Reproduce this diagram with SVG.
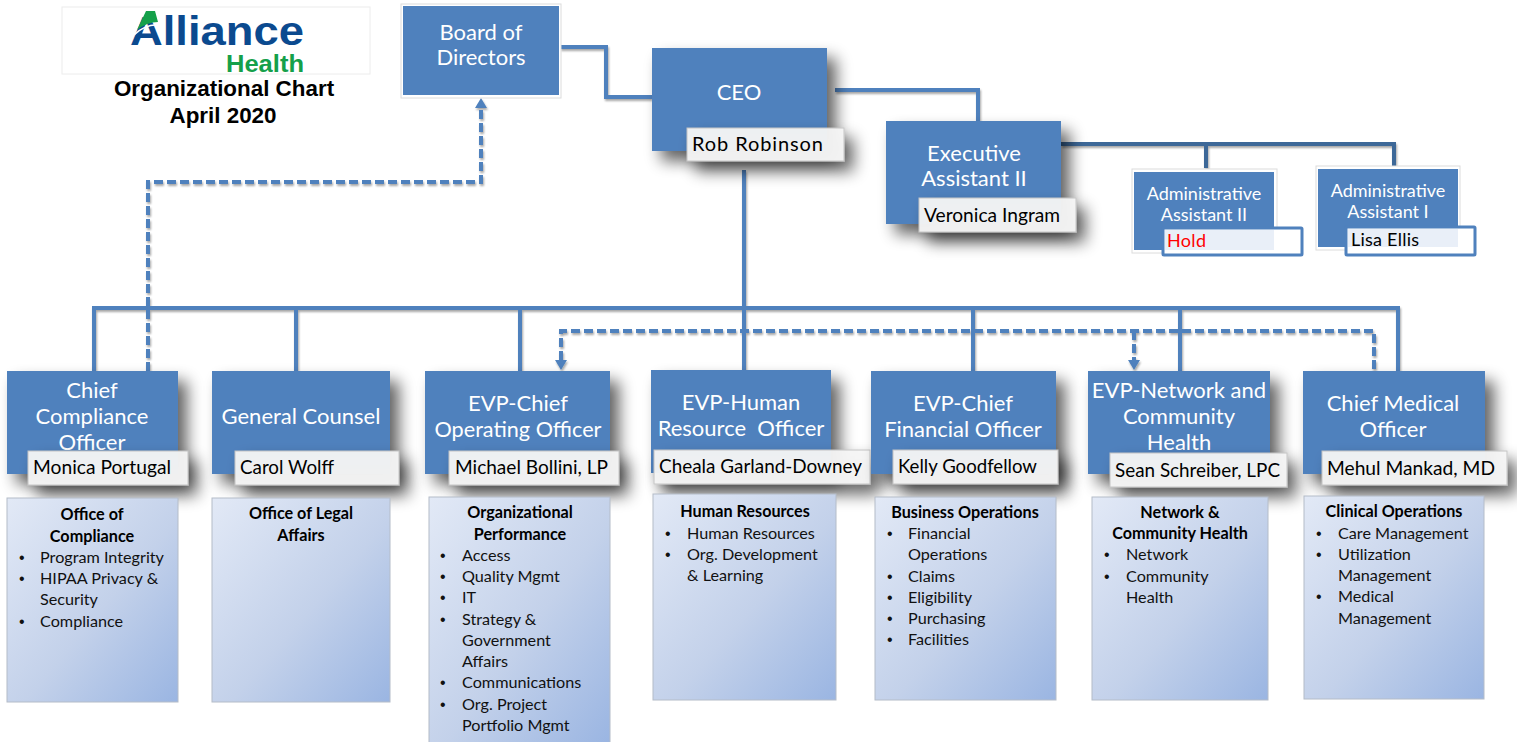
<svg xmlns="http://www.w3.org/2000/svg" width="1517" height="742" viewBox="0 0 1517 742">
<style>
text{font-family:Lato,"Open Sans","Liberation Sans",sans-serif}
.box{fill:#4f81bd}
.t{fill:#fff;font-size:22px;text-anchor:middle}
.tsm{fill:#fff;font-size:18px;text-anchor:middle}
.nm{fill:#f6f6f6;fill-opacity:.95;stroke:#c4c4c4;stroke-width:1}
.n{fill:#000;font-size:20px}
.panel{fill:url(#g);stroke:#b4bcc8;stroke-width:1}
.h{fill:#000;font-size:16.2px;font-weight:700;text-anchor:middle}
.b{fill:#111;font-size:16.2px}
.dot{fill:#111;font-size:16px;font-family:"Liberation Sans",sans-serif}
.c{fill:none;stroke:#4f81bd;stroke-width:4}
.d{fill:none;stroke:#4f81bd;stroke-width:4;stroke-dasharray:9 4}
.dk{fill:none;stroke:#3c6898;stroke-width:4}
.fr{fill:#fff;stroke:#dcdcdc;stroke-width:1}
.ls{font-family:"Liberation Sans",Arial,sans-serif;font-weight:700}
</style>
<defs>
<linearGradient id="g" x1="0" y1="0" x2="1" y2="1"><stop offset="0" stop-color="#e2e9f6"/><stop offset=".55" stop-color="#c3d1ea"/><stop offset="1" stop-color="#9ab5e2"/></linearGradient>
<filter id="s" x="-40%" y="-100%" width="200%" height="320%"><feGaussianBlur in="SourceAlpha" stdDeviation="8"/><feOffset dx="9" dy="10"/><feComponentTransfer><feFuncA type="linear" slope=".62"/></feComponentTransfer><feMerge><feMergeNode/><feMergeNode in="SourceGraphic"/></feMerge></filter>
<filter id="ls" x="-5%" y="-5%" width="110%" height="110%"><feGaussianBlur in="SourceAlpha" stdDeviation="1.2"/><feOffset dx="1" dy="1.5"/><feComponentTransfer><feFuncA type="linear" slope=".35"/></feComponentTransfer><feMerge><feMergeNode/><feMergeNode in="SourceGraphic"/></feMerge></filter>
</defs>

<g id="logo">
<rect x="62" y="7" width="308" height="67" fill="#fff" stroke="#ececec"/>
<text class="ls" x="130" y="45" font-size="41" fill="#0b4a8f" textLength="174" lengthAdjust="spacingAndGlyphs">Alliance</text>
<path d="M137 30L146 11H155L158 22Q147 22 137 30Z" fill="#15a04a"/>
<path d="M134 35Q146 23 161 25" fill="none" stroke="#fff" stroke-width="1.5"/>
<text class="ls" x="226" y="72" font-size="23" fill="#15a04a" textLength="78" lengthAdjust="spacingAndGlyphs">Health</text>
</g>
<g id="title">
<text class="ls" x="224" y="96" font-size="22.4" text-anchor="middle">Organizational Chart</text>
<text class="ls" x="223" y="123" font-size="22.4" text-anchor="middle">April 2020</text>
</g>

<g id="connectors">
<g filter="url(#ls)">
<path class="c" d="M560 47H606V97H652"/>
<path class="c" d="M835 90H978V121"/>
<path class="dk" d="M1061 144H1394V168M1206 144V168"/>
<path class="c" d="M744 170V371M94 371V308H1398V371M296 308V371M520 308V371M973 308V371M1180 308V371"/>
<path class="d" d="M148 371V182H481V108"/>
<path d="M481 98L487 108H475Z" fill="#4f81bd"/>
<path class="d" d="M1374 369V331H561V360"/>
<path d="M561 370L555 360H567Z" fill="#4f81bd"/>
<path class="d" d="M1134 331V360"/>
<path d="M1134 370L1128 360H1140Z" fill="#4f81bd"/>
</g>
</g>

<g id="node-board"><rect x="401" y="4" width="160" height="94" class="fr"/><rect x="403" y="6" width="156" height="89" class="box"/><text class="t" x="481" y="40">Board of</text><text class="t" x="481" y="65">Directors</text></g>
<g id="node-ceo"><rect x="652" y="48" width="175" height="103" class="box" filter="url(#s)"/><text class="t" x="739" y="100" font-size="21">CEO</text><rect x="687" y="128" width="157" height="33" class="nm" filter="url(#s)"/><text class="n" x="692" y="151" textLength="131">Rob Robinson</text></g>
<g id="node-exec"><rect x="886" y="121" width="175" height="103" class="box" filter="url(#s)"/><text class="t" x="974" y="161">Executive</text><text class="t" x="974" y="186">Assistant II</text><rect x="919" y="198" width="157" height="34" class="nm" filter="url(#s)"/><text class="n" x="924" y="222" textLength="136" lengthAdjust="spacingAndGlyphs">Veronica Ingram</text></g>
<g id="node-admin2"><rect x="1132" y="169" width="145" height="84" class="fr"/><rect x="1134" y="172" width="140" height="78" class="box"/><text class="tsm" x="1204" y="200">Administrative</text><text class="tsm" x="1204" y="221">Assistant II</text><rect x="1163" y="228" width="139" height="27" fill="#fff" stroke="#4f81bd" stroke-width="3" rx="1"/><rect x="1165" y="230" width="109" height="20" fill="#e9eff8"/><text x="1167" y="247" font-size="18" fill="#f00" textLength="39">Hold</text></g>
<g id="node-admin1"><rect x="1316" y="166" width="144" height="84" class="fr"/><rect x="1318" y="169" width="140" height="78" class="box"/><text class="tsm" x="1388" y="197">Administrative</text><text class="tsm" x="1388" y="218">Assistant I</text><rect x="1346" y="227" width="129" height="28" fill="#fff" stroke="#4f81bd" stroke-width="3" rx="1"/><rect x="1348" y="229" width="110" height="18" fill="#e9eff8"/><text x="1351" y="246" font-size="18" fill="#000" textLength="68">Lisa Ellis</text></g>

<g id="node-cco"><rect x="7" y="371" width="171" height="103" class="box" filter="url(#s)"/><text class="t" x="92" y="398">Chief</text><text class="t" x="92" y="424">Compliance</text><text class="t" x="92" y="450">Officer</text><rect x="28" y="451" width="160" height="34" class="nm" filter="url(#s)"/><text class="n" x="33" y="474" textLength="138" lengthAdjust="spacingAndGlyphs">Monica Portugal</text></g>
<g id="node-gc"><rect x="212" y="371" width="178" height="103" class="box" filter="url(#s)"/><text class="t" x="301" y="424">General Counsel</text><rect x="235" y="451" width="164" height="34" class="nm" filter="url(#s)"/><text class="n" x="240" y="474" textLength="94" lengthAdjust="spacingAndGlyphs">Carol Wolff</text></g>
<g id="node-coo"><rect x="425" y="371" width="185" height="103" class="box" filter="url(#s)"/><text class="t" x="518" y="411">EVP-Chief</text><text class="t" x="518" y="437" textLength="167" lengthAdjust="spacingAndGlyphs">Operating Officer</text><rect x="449" y="451" width="170" height="34" class="nm" filter="url(#s)"/><text class="n" x="455" y="474" textLength="153" lengthAdjust="spacingAndGlyphs">Michael Bollini, LP</text></g>
<g id="node-hr"><rect x="651" y="370" width="180" height="103" class="box" filter="url(#s)"/><text class="t" x="741" y="410">EVP-Human</text><text class="t" x="741" y="436" xml:space="preserve">Resource  Officer</text><rect x="654" y="450" width="216" height="34" class="nm" filter="url(#s)"/><text class="n" x="659" y="473" textLength="203" lengthAdjust="spacingAndGlyphs">Cheala Garland-Downey</text></g>
<g id="node-cfo"><rect x="871" y="371" width="185" height="103" class="box" filter="url(#s)"/><text class="t" x="963" y="411">EVP-Chief</text><text class="t" x="963" y="437">Financial Officer</text><rect x="893" y="450" width="165" height="34" class="nm" filter="url(#s)"/><text class="n" x="898" y="473" textLength="139" lengthAdjust="spacingAndGlyphs">Kelly Goodfellow</text></g>
<g id="node-net"><rect x="1088" y="371" width="182" height="103" class="box" filter="url(#s)"/><text class="t" x="1179" y="398">EVP-Network and</text><text class="t" x="1179" y="424">Community</text><text class="t" x="1179" y="450">Health</text><rect x="1110" y="453" width="177" height="34" class="nm" filter="url(#s)"/><text class="n" x="1115" y="477" textLength="165" lengthAdjust="spacingAndGlyphs">Sean Schreiber, LPC</text></g>
<g id="node-cmo"><rect x="1303" y="371" width="182" height="103" class="box" filter="url(#s)"/><text class="t" x="1393" y="411">Chief Medical</text><text class="t" x="1393" y="437">Officer</text><rect x="1322" y="451" width="185" height="34" class="nm" filter="url(#s)"/><text class="n" x="1327" y="475" textLength="168" lengthAdjust="spacingAndGlyphs">Mehul Mankad, MD</text></g>

<g id="panel-compliance"><rect x="7" y="498" width="171" height="204" class="panel"/>
<text class="h" x="92" y="520">Office of</text><text class="h" x="92" y="542">Compliance</text>
<text class="dot" x="19" y="563">•</text><text class="b" x="40" y="563">Program Integrity</text>
<text class="dot" x="19" y="584">•</text><text class="b" x="40" y="584">HIPAA Privacy &amp;</text><text class="b" x="40" y="605">Security</text>
<text class="dot" x="19" y="627">•</text><text class="b" x="40" y="627">Compliance</text></g>
<g id="panel-legal"><rect x="212" y="498" width="178" height="204" class="panel"/>
<text class="h" x="301" y="519">Office of Legal</text><text class="h" x="301" y="541">Affairs</text></g>
<g id="panel-org"><rect x="429" y="497" width="181" height="246" class="panel"/>
<text class="h" x="520" y="518">Organizational</text><text class="h" x="520" y="540">Performance</text>
<text class="dot" x="440" y="561">•</text><text class="b" x="462" y="561">Access</text>
<text class="dot" x="440" y="582">•</text><text class="b" x="462" y="582">Quality Mgmt</text>
<text class="dot" x="440" y="603">•</text><text class="b" x="462" y="603">IT</text>
<text class="dot" x="440" y="625">•</text><text class="b" x="462" y="625">Strategy &amp;</text><text class="b" x="462" y="646">Government</text><text class="b" x="462" y="667">Affairs</text>
<text class="dot" x="440" y="688">•</text><text class="b" x="462" y="688">Communications</text>
<text class="dot" x="440" y="710">•</text><text class="b" x="462" y="710">Org. Project</text><text class="b" x="462" y="731">Portfolio Mgmt</text></g>
<g id="panel-hr"><rect x="653" y="494" width="183" height="206" class="panel"/>
<text class="h" x="745" y="517">Human Resources</text>
<text class="dot" x="665" y="539">•</text><text class="b" x="687" y="539">Human Resources</text>
<text class="dot" x="665" y="560">•</text><text class="b" x="687" y="560">Org. Development</text><text class="b" x="687" y="581">&amp; Learning</text></g>
<g id="panel-bizops"><rect x="875" y="497" width="181" height="203" class="panel"/>
<text class="h" x="965" y="518">Business Operations</text>
<text class="dot" x="887" y="539">•</text><text class="b" x="908" y="539">Financial</text><text class="b" x="908" y="560">Operations</text>
<text class="dot" x="887" y="582">•</text><text class="b" x="908" y="582">Claims</text>
<text class="dot" x="887" y="603">•</text><text class="b" x="908" y="603">Eligibility</text>
<text class="dot" x="887" y="624">•</text><text class="b" x="908" y="624">Purchasing</text>
<text class="dot" x="887" y="645">•</text><text class="b" x="908" y="645">Facilities</text></g>
<g id="panel-network"><rect x="1092" y="497" width="176" height="203" class="panel"/>
<text class="h" x="1180" y="518">Network &amp;</text><text class="h" x="1180" y="539">Community Health</text>
<text class="dot" x="1104" y="560">•</text><text class="b" x="1126" y="560">Network</text>
<text class="dot" x="1104" y="582">•</text><text class="b" x="1126" y="582">Community</text><text class="b" x="1126" y="603">Health</text></g>
<g id="panel-clinical"><rect x="1304" y="496" width="180" height="203" class="panel"/>
<text class="h" x="1394" y="517">Clinical Operations</text>
<text class="dot" x="1316" y="539">•</text><text class="b" x="1338" y="539">Care Management</text>
<text class="dot" x="1316" y="560">•</text><text class="b" x="1338" y="560">Utilization</text><text class="b" x="1338" y="581">Management</text>
<text class="dot" x="1316" y="602">•</text><text class="b" x="1338" y="602">Medical</text><text class="b" x="1338" y="624">Management</text></g>
</svg>
